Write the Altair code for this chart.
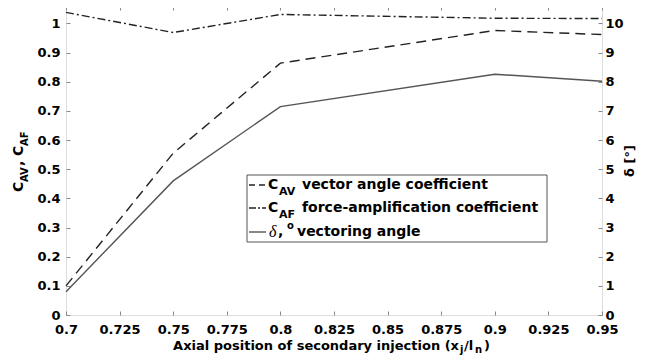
import altair as alt
import pandas as pd

# ---- data ----
x_pos = [0.7, 0.75, 0.8, 0.9, 0.95]
c_av = [0.10, 0.555, 0.864, 0.976, 0.962]
c_af = [1.038, 0.969, 1.031, 1.018, 1.017]
delta = [0.8, 4.6, 7.15, 8.26, 8.02]

x_ticks = [0.7, 0.725, 0.75, 0.775, 0.8, 0.825, 0.85, 0.875, 0.9, 0.925, 0.95]
left_ticks = [0, 0.1, 0.2, 0.3, 0.4, 0.5, 0.6, 0.7, 0.8, 0.9, 1]
right_ticks = [0, 1, 2, 3, 4, 5, 6, 7, 8, 9, 10]

df = pd.DataFrame({"x": x_pos, "cav": c_av, "caf": c_af, "delta": delta})
one = pd.DataFrame({"a": [0]})

FONT = "DejaVu Sans"
W, H = 536, 309
XDOM = [0.7, 0.95]
LDOM = [0, 1.06]
RDOM = [0, 10.6]
LINE = "#222222"

def ax_common(**kw):
    base = dict(domain=False, grid=False, ticks=True, tickSize=4, tickColor="#888888",
                labelFont=FONT, labelFontWeight="bold", labelFontSize=13, labelColor="black",
                title=None, offset=-4)
    base.update(kw)
    return alt.Axis(**base)

x_bottom = alt.X("x:Q", scale=alt.Scale(domain=XDOM, nice=False, zero=False),
                 axis=ax_common(values=x_ticks, format=".3~f", labelPadding=8, orient="bottom",
                                labelOverlap=False, labelFlush=False))
x_top = alt.X("x:Q", scale=alt.Scale(domain=XDOM, nice=False, zero=False),
              axis=ax_common(values=x_ticks, labels=False, orient="top"))
x_none = alt.X("x:Q", scale=alt.Scale(domain=XDOM, nice=False, zero=False), axis=None)

y_left = alt.Y("cav:Q", scale=alt.Scale(domain=LDOM, nice=False),
               axis=ax_common(values=left_ticks, format=".1~f", orient="left", labelPadding=6,
                              labelFlush=False, labelOverlap=False))
y_af = alt.Y("caf:Q", scale=alt.Scale(domain=LDOM, nice=False), axis=None)
y_right = alt.Y("delta:Q", scale=alt.Scale(domain=RDOM, nice=False),
                axis=ax_common(values=right_ticks, format="d", orient="right", labelPadding=3,
                               labelFlush=False, labelOverlap=False))

base = alt.Chart(df)
av = base.mark_line(color=LINE, strokeWidth=1.4, strokeDash=[10, 6]).encode(x=x_bottom, y=y_left)
af = base.mark_line(color=LINE, strokeWidth=1.4, strokeDash=[8, 3, 2, 3]).encode(x=x_none, y=y_af)
dl = base.mark_line(color="#555555", strokeWidth=1.4).encode(x=x_top, y=y_right)


def txt(s, x, y, size=12, align="left", angle=0, baseline="middle", style="normal",
        font=FONT, weight="bold"):
    return alt.Chart(one).mark_text(text=s, fontSize=size, align=align, baseline=baseline,
                                    angle=angle, font=font, fontWeight=weight,
                                    fontStyle=style, color="black").encode(
        x=alt.value(x), y=alt.value(y))


def rule(x1, x2, y, dash=None, color=LINE):
    kw = dict(color=color, strokeWidth=1.4)
    if dash:
        kw["strokeDash"] = dash
    return alt.Chart(one).mark_rule(**kw).encode(x=alt.value(x1), x2=alt.value(x2), y=alt.value(y))


# legend box
box = alt.Chart(one).mark_rect(fill="white", stroke="#555555", strokeWidth=1).encode(
    x=alt.value(181), x2=alt.value(481), y=alt.value(169), y2=alt.value(236))

legend_layers = [
    box,
    rule(183, 200, 179, [6, 4]),
    txt("C", 202, 179, 14),
    txt("AV", 213, 186, 11),
    txt("vector angle coefficient", 236, 179, 14),
    rule(183, 200, 202, [7, 2, 2, 2]),
    txt("C", 202, 202, 14),
    txt("AF", 213, 209, 11),
    txt("force-amplification coefficient", 236, 202, 14),
    rule(183, 200, 226, None, "#555555"),
    txt("δ", 203, 226, 16, style="italic", font="Liberation Serif", weight="normal"),
    txt(",", 212, 226, 14),
    txt("o", 221, 220, 10),
    txt("vectoring angle", 231, 226, 14),
]

title_layers = [
    # left axis title  C_AV, C_AF (rotated)
    txt("C", -43, 186, 14, angle=270, baseline="alphabetic"),
    txt("AV", -38, 176, 10, angle=270, baseline="alphabetic"),
    txt(",", -43, 160, 14, angle=270, baseline="alphabetic"),
    txt("C", -43, 150, 14, angle=270, baseline="alphabetic"),
    txt("AF", -38, 140, 10, angle=270, baseline="alphabetic"),
    # right axis title
    txt("δ [°]", 564, 155, 13, angle=270, align="center"),
    # x axis title
    txt("Axial position of secondary injection (x", 393, 344, 13, align="right", baseline="alphabetic"),
    txt("j", 394, 347, 10, baseline="alphabetic"),
    txt("/l", 398, 344, 13, baseline="alphabetic"),
    txt("n", 409, 347, 10, baseline="alphabetic"),
    txt(")", 418, 344, 13, baseline="alphabetic"),
]

chart = alt.layer(av, af, dl, *legend_layers, *title_layers).resolve_scale(
    x="independent", y="independent").properties(
    width=W, height=H,
    autosize=alt.AutoSizeParams(type="none"),
    padding={"left": 58, "top": -2, "right": 36, "bottom": 41},
).configure_view(stroke="#999999", strokeWidth=1).configure(background="white")

chart.save("out.html", embed_options={"renderer": "svg", "actions": False})
